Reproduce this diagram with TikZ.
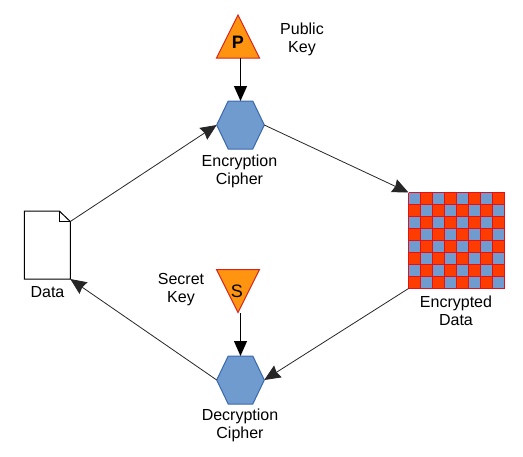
\documentclass[tikz,border=0pt]{standalone}
\usepackage{fontspec}
\setmainfont{Liberation Sans}
\usetikzlibrary{arrows.meta}
\definecolor{hexfill}{HTML}{6F9BCF}
\definecolor{hexline}{HTML}{3A68AE}
\definecolor{keyfill}{HTML}{FF9410}
\definecolor{keyline}{HTML}{D8241C}
\definecolor{cellred}{HTML}{FF3C00}
\definecolor{celledge}{HTML}{E0101C}
\tikzset{
  x=1pt,y=-1pt,
  anchorbox/.style={minimum width=#1,inner sep=0pt,outer sep=0pt},
  label text/.style={align=center,font=\fontsize{16}{18}\selectfont,inner sep=0pt},
  hexshape/.style={fill=hexfill,draw=hexline,line width=1pt,line join=miter},
  keyshape/.style={fill=keyfill,draw=keyline,line width=1pt,line join=miter},
  keyletter/.style={font=\fontsize{18}{18}\selectfont,inner sep=0pt},
  keyarrow/.style={draw=black,line width=1.2pt,-{Triangle[length=15pt,width=13pt]}},
  flow/.style={draw=black!85,line width=0.8pt,-{Stealth[length=16pt,width=14pt,inset=1.5pt]}},
  cellline/.style={draw=celledge,line width=0.4pt},
}
\begin{document}
\begin{tikzpicture}
\useasboundingbox (0,0) rectangle (523,456);
% anchor boxes
\node[anchorbox=47.6pt,minimum height=48pt] (enc) at (240.5,125) {};
\node[anchorbox=47.6pt,minimum height=48pt] (dec) at (240.5,380) {};
\node[anchorbox=46pt,minimum height=68pt] (doc) at (47.3,245) {};
\node[anchorbox=96pt,minimum height=96pt,fill=cellred] (grid) at (456.5,240.5) {};
\node[anchorbox=43pt,minimum height=43pt] (pub) at (238,36.5) {};
\node[anchorbox=43pt,minimum height=43pt] (sec) at (238,291) {};
\coordinate (pubfoot) at (240.5,58);
\coordinate (secfoot) at (240.5,313);
% key shapes
\draw[keyshape] (pub.north) -- (pub.south east) -- (pub.south west) -- cycle;
\draw[keyshape] (sec.south) -- (sec.north east) -- (sec.north west) -- cycle;
\node[keyletter,font=\fontsize{18}{18}\selectfont\bfseries] (pletter) at (238,42) {P};
\node[keyletter] (sletter) at (237,291) {S};
% hexagons
\foreach \h in {enc,dec}{
  \draw[hexshape] (\h.west) -- ([xshift=11.5pt]\h.north west) -- ([xshift=-11.5pt]\h.north east)
    -- (\h.east) -- ([xshift=-11.5pt]\h.south east) -- ([xshift=11.5pt]\h.south west) -- cycle;
}
% document
\draw[fill=white,draw=black,line width=1pt,line join=miter]
  (doc.north west) -- ([xshift=-11pt]doc.north east) -- ([yshift=-10.5pt]doc.north east)
  -- (doc.south east) -- (doc.south west) -- cycle;
\draw[black,line width=1pt] ([xshift=-11pt]doc.north east) -- ([xshift=-11pt,yshift=-10.5pt]doc.north east) -- ([yshift=-10.5pt]doc.north east);
% checkerboard
\begin{scope}[shift={(grid.north west)}]
\foreach \r in {0,...,7}{
  \foreach \c in {0,...,7}{
    \pgfmathtruncatemacro{\odd}{mod(\r+\c,2)}
    \ifnum\odd=0
      \fill[hexfill] (\c*12,\r*12) rectangle ++(12,12);
    \fi
  }
}
\foreach \i in {0,...,8}{
  \draw[cellline] (\i*12,0) -- (\i*12,96);
  \draw[cellline] (0,\i*12) -- (96,\i*12);
}
\end{scope}
% connectors
\draw[keyarrow] (pubfoot) -- (enc.north);
\draw[keyarrow] (secfoot) -- (dec.north);
\draw[flow] ([yshift=-10.5pt]doc.north east) -- (enc.west);
\draw[flow] (enc.east) -- (grid.north west);
\draw[flow] (grid.south west) -- (dec.east);
\draw[flow] (dec.west) -- (doc.south east);
% labels
\node[label text] (publabel) at (302,39.5) {Public\\Key};
\node[label text] (enclabel) at (239.5,171) {Encryption\\Cipher};
\node[label text] (seclabel) at (181,290) {Secret\\Key};
\node[label text] (declabel) at (240,425) {Decryption\\Cipher};
\node[label text] (doclabel) at (47.5,292) {Data};
\node[label text] (gridlabel) at (456,311) {Encrypted\\Data};
\end{tikzpicture}
\end{document}
